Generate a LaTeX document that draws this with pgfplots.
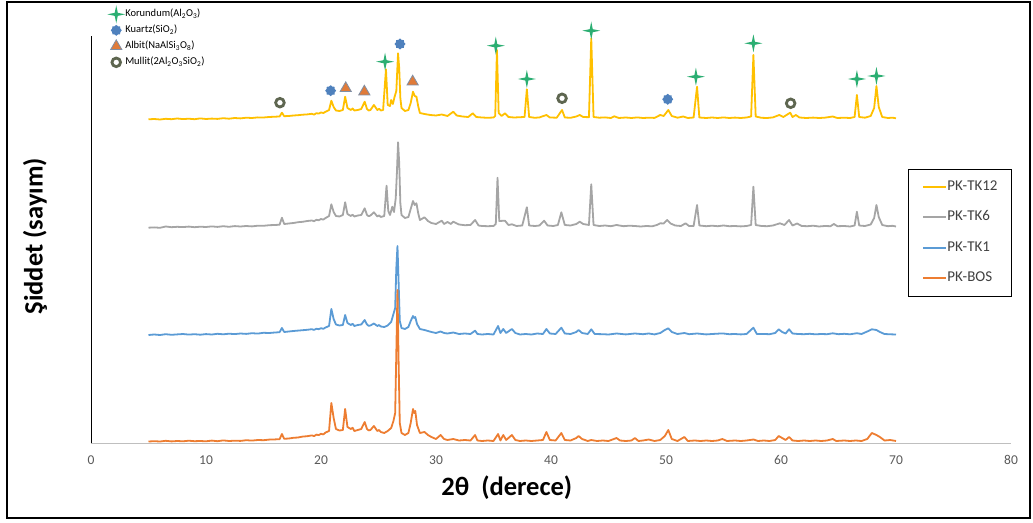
\documentclass[border=0pt]{standalone}
\usepackage{fontspec}
\setmainfont{Carlito}
\usepackage{pgfplots}
\usepackage{pgfplotstable}
\pgfplotsset{compat=1.18}
\usetikzlibrary{plotmarks}

\definecolor{ylw}{HTML}{FFC000}
\definecolor{gry}{HTML}{A5A5A5}
\definecolor{blu}{HTML}{5B9BD5}
\definecolor{org}{HTML}{ED7D31}
\definecolor{korgreen}{HTML}{2BAE72}
\definecolor{kuablue}{HTML}{4F81BD}
\definecolor{albitorange}{HTML}{E07B39}
\definecolor{albitedge}{HTML}{7F8FA6}
\definecolor{mullitc}{HTML}{5E6650}
\definecolor{tickgray}{HTML}{595959}
\definecolor{axisgray}{HTML}{BFBFBF}
\definecolor{txt}{HTML}{404040}

\pgfdeclareplotmark{star4}{%
 \pgfpathmoveto{\pgfqpoint{0pt}{\pgfplotmarksize}}%
 \pgfpathlineto{\pgfqpoint{0.17\pgfplotmarksize}{0.17\pgfplotmarksize}}%
 \pgfpathlineto{\pgfqpoint{\pgfplotmarksize}{0pt}}%
 \pgfpathlineto{\pgfqpoint{0.17\pgfplotmarksize}{-0.17\pgfplotmarksize}}%
 \pgfpathlineto{\pgfqpoint{0pt}{-\pgfplotmarksize}}%
 \pgfpathlineto{\pgfqpoint{-0.17\pgfplotmarksize}{-0.17\pgfplotmarksize}}%
 \pgfpathlineto{\pgfqpoint{-\pgfplotmarksize}{0pt}}%
 \pgfpathlineto{\pgfqpoint{-0.17\pgfplotmarksize}{0.17\pgfplotmarksize}}%
 \pgfpathclose\pgfusepathqfill}
\pgfdeclareplotmark{gear}{%
 \pgfpathmoveto{\pgfpointpolar{0}{\pgfplotmarksize}}%
 \pgfpathlineto{\pgfpointpolar{22.5}{0.8\pgfplotmarksize}}%
 \pgfpathlineto{\pgfpointpolar{45}{\pgfplotmarksize}}%
 \pgfpathlineto{\pgfpointpolar{67.5}{0.8\pgfplotmarksize}}%
 \pgfpathlineto{\pgfpointpolar{90}{\pgfplotmarksize}}%
 \pgfpathlineto{\pgfpointpolar{112.5}{0.8\pgfplotmarksize}}%
 \pgfpathlineto{\pgfpointpolar{135}{\pgfplotmarksize}}%
 \pgfpathlineto{\pgfpointpolar{157.5}{0.8\pgfplotmarksize}}%
 \pgfpathlineto{\pgfpointpolar{180}{\pgfplotmarksize}}%
 \pgfpathlineto{\pgfpointpolar{202.5}{0.8\pgfplotmarksize}}%
 \pgfpathlineto{\pgfpointpolar{225}{\pgfplotmarksize}}%
 \pgfpathlineto{\pgfpointpolar{247.5}{0.8\pgfplotmarksize}}%
 \pgfpathlineto{\pgfpointpolar{270}{\pgfplotmarksize}}%
 \pgfpathlineto{\pgfpointpolar{292.5}{0.8\pgfplotmarksize}}%
 \pgfpathlineto{\pgfpointpolar{315}{\pgfplotmarksize}}%
 \pgfpathlineto{\pgfpointpolar{337.5}{0.8\pgfplotmarksize}}%
 \pgfpathclose\pgfusepathqfill}

% PK-TK12
\pgfplotstableread{
x y
5.0 323.7
5.5 324
6.0 323.5
6.5 324.2
7.0 323.8
7.5 324.5
8.0 323.9
8.5 324.3
9.0 323.8
9.5 324.6
10.0 324
10.5 324.4
11.0 324.1
11.5 324.8
12.0 324.3
12.5 325
13.0 324.6
13.5 325.3
14.0 325
14.5 325.6
15.0 325.5
15.5 326
16.0 326.3
16.4 326.5
16.6 330.3
16.8 326.8
17.2 327
17.6 327.5
18.0 327.8
18.4 328.3
18.8 328.6
19.2 329.2
19.4 328.4
19.6 329.8
19.8 329.4
20.0 330.5
20.2 330
20.4 331.2
20.7 333
20.9 342.3
21.1 336
21.3 332.5
21.6 332
21.9 333
22.1 346.3
22.3 335
22.6 333
22.75 334.5
22.9 332.5
23.2 333
23.5 334
23.8 341.3
24.0 334
24.15 332.5
24.3 333
24.6 338
24.9 333
25.05 334.2
25.2 332.5
25.4 333
25.65 373.7
25.8 338
26.0 337
26.1 343
26.25 339
26.4 346.3
26.55 352
26.7 389.7
26.8 375
26.9 345
27.0 335
27.3 332
27.6 333
27.8 340
28.0 351.3
28.15 347
28.3 346.3
28.45 337
28.6 330
29.0 329
29.5 328
30.0 327.5
30.5 328.5
31.0 327
31.5 331.3
31.8 327.5
32.3 326.5
32.8 326
33.2 329.7
33.5 326
34.0 325.5
34.5 325.2
35.0 325.5
35.15 327
35.3 393
35.45 330
35.7 327
36.0 329.7
36.3 326
36.8 325.5
37.3 325.8
37.7 326
37.9 353.7
38.1 326
38.6 325.2
39.0 325.6
39.6 328
39.9 325.5
40.5 325.3
40.96 333
41.2 325.5
41.7 325.2
42.2 326.5
42.5 328
42.8 326
43.3 325.8
43.5 404.7
43.7 326
44.2 325.3
44.7 325.6
45.2 325
45.5 326.7
45.9 325
46.5 325.5
47.0 325
47.5 325.6
48.0 325
48.5 325.3
49.0 325.1
49.5 328
49.8 327
50.2 333
50.5 327
51.0 325.3
51.5 326.5
51.9 325
52.4 325.5
52.7 356.3
52.9 325.5
53.5 325
54.0 325.5
54.5 325
55.0 325.6
55.5 325
56.0 325.4
56.5 325
57.0 325.5
57.4 326.5
57.6 388
57.8 326.5
58.3 325.2
58.8 325
59.3 325.6
59.85 328
60.2 326
60.8 330.3
61.0 326
61.3 328
61.6 325.5
62.2 325
62.8 325.4
63.3 325
63.8 325.3
64.5 326.5
64.9 325
65.5 325.3
66.0 325
66.4 326
66.6 348
66.8 326
67.3 325.3
67.8 327
68.1 335
68.3 357
68.5 336
68.8 326
69.3 325
69.7 325.3
70.0 324.7
}\tktwelve

% PK-TK6
\pgfplotstableread{
x y
5.0 215.3
5.5 215.6
6.0 215.2
6.5 216.5
7.0 215.8
7.5 216.2
8.0 215.9
8.5 216.4
9.0 215.8
9.5 216.3
10.0 216.0
10.5 216.6
11.0 216.1
11.5 216.8
12.0 216.2
12.5 216.9
13.0 216.5
13.5 217
14.0 216.6
14.5 217.3
15.0 217.2
15.5 217.8
16.0 218
16.4 218.3
16.6 225.3
16.8 219
17.2 219.5
17.6 220
18.0 220.8
18.4 221.2
18.8 222
19.2 222.5
19.4 221.8
19.6 223.2
19.8 222.7
20.0 224
20.2 223.4
20.4 225
20.7 227
20.9 238.7
21.1 231
21.3 227
21.6 226.5
21.9 228
22.1 240.7
22.3 229
22.6 227
22.75 228.3
22.9 226.5
23.2 227.5
23.5 228
23.8 234.7
24.0 228
24.15 226.8
24.3 227.5
24.6 230.7
24.9 226.5
25.05 227.6
25.2 226
25.5 227
25.7 257.3
25.85 232
26.0 228
26.2 236.3
26.35 231
26.5 245
26.6 270
26.7 300.7
26.8 280
26.9 240
27.0 228
27.3 225
27.6 226
27.8 234
28.0 242
28.15 238
28.3 239.7
28.45 230
28.6 223
29.0 225.7
29.3 222
29.6 220
30.0 219
30.5 222.3
30.7 219
31.0 221
31.3 219
31.5 221.3
32.0 218.5
32.5 217.8
33.0 218
33.4 223
33.7 217.5
34.0 217
34.5 216.8
35.0 217
35.2 219
35.35 265.3
35.5 222
36.0 222.3
36.3 218
36.6 218.7
37.0 217
37.5 217.5
37.9 235.7
38.1 217.5
38.6 217
39.0 217.5
39.4 222.3
39.7 217.5
40.2 217
40.6 218
40.9 230.7
41.2 218
41.7 217.5
42.2 219
42.5 221.3
42.8 219
43.3 218
43.5 258.7
43.7 218
44.2 217
44.7 217.5
45.2 216.8
45.7 218
46.3 216.8
46.8 217.3
47.3 217
47.8 216.5
48.3 217
48.8 216.7
49.2 218
49.5 219.7
49.8 219.5
50.1 223
50.4 219.5
50.8 217.5
51.3 217
51.7 219.7
52.0 217
52.4 217
52.7 238
52.9 217.5
53.5 216.8
54.0 217.3
54.5 216.8
55.0 217.5
55.5 216.8
56.0 217
56.5 216.6
57.0 217
57.4 218
57.6 256.3
57.8 218
58.3 217
58.8 216.8
59.3 217.5
59.9 219.7
60.3 218
60.7 223
61.0 217.5
61.4 219.5
61.8 217
62.3 216.8
62.8 217.3
63.3 216.5
63.8 217
64.3 216.8
64.6 219
64.9 216.8
65.5 217
66.0 216.5
66.4 217.5
66.6 231.3
66.8 217.5
67.3 217
67.8 218.5
68.1 225
68.3 238
68.5 226
68.8 218
69.3 216.8
69.7 217.2
70.0 216.5
}\tksix

% PK-TK1
\pgfplotstableread{
x y
5.0 108
5.5 108.5
6.0 108
6.5 108.8
7.0 108.2
7.5 108.6
8.0 109
8.5 108.4
9.0 108.8
9.5 108.3
10.0 108.9
10.5 108.5
11.0 109.2
11.5 108.7
12.0 109.3
12.5 108.9
13.0 109.5
13.5 109.1
14.0 109.8
14.5 109.4
15.0 110.2
15.5 110
16.0 110.5
16.4 110.8
16.6 115
16.8 111
17.2 111.5
17.6 112
18.0 112.4
18.4 112.8
18.8 113.2
19.2 113.8
19.4 113.1
19.6 114.3
19.8 113.8
20.0 114.8
20.2 114.2
20.4 115.5
20.7 117
20.9 134
21.1 124
21.3 118.5
21.6 117.5
21.9 118
22.1 128
22.3 120
22.6 118
22.75 119.2
22.9 117
23.2 118
23.5 118.5
23.8 123
24.0 118.5
24.15 117.2
24.3 117.5
24.6 119.5
24.9 117
25.05 118
25.2 116.5
25.5 116
25.8 117.5
26.1 121
26.3 129
26.45 135
26.55 175
26.65 197
26.75 160
26.85 122
27.0 115
27.3 114
27.6 116
27.8 122
28.0 127
28.1 125
28.2 126
28.35 119
28.6 114
29.0 113
29.3 112
29.6 111
30.0 110
30.4 111.5
30.7 110
31.0 109.5
31.5 110.5
32.0 109
32.5 109.5
33.0 109
33.4 112.3
33.6 109
34.0 108.5
34.5 109
35.0 108.5
35.4 117
35.6 110
35.85 114
36.1 110
36.6 114
36.9 110
37.3 108.5
37.8 109
38.3 108.5
38.8 109.5
39.3 109
39.6 114
39.9 109.5
40.4 109
40.9 115.3
41.2 109.5
41.7 109
42.2 111
42.4 113
42.7 110
43.2 109
43.5 113.7
43.8 109
44.5 108.8
45.0 108.5
45.7 109.5
46.5 108.6
47.3 109.5
48.0 108.8
48.5 109.5
49.0 108.6
49.5 110
49.9 113
50.2 114.7
50.5 111
51.0 109
51.6 110
52.0 108.8
52.7 109.5
53.5 108.6
54.0 109
54.9 109.6
55.5 108.8
56.0 109
56.5 108.6
57.0 109
57.6 115.3
57.9 109
58.5 109
59.0 108.8
59.5 110
59.8 113.7
60.1 111
60.4 109.5
60.7 113.7
61.0 109.5
61.5 109
62.0 108.8
62.5 109.2
63.0 108.7
63.5 109
64.0 108.8
64.5 109.7
65.0 108.8
65.5 109.2
66.0 108.7
66.6 109.8
67.0 109
67.5 111.5
67.9 113.7
68.3 113
68.6 111
69.0 109
69.5 108.7
70.0 108.5
}\tkone

% PK-BOS
\pgfplotstableread{
x y
5.0 1.5
5.5 1.8
6.0 1.5
6.5 2.2
7.0 1.6
7.5 2.0
8.0 1.7
8.5 2.3
9.0 1.8
9.5 2.0
10.0 1.7
10.5 2.4
11.0 1.8
11.5 2.6
12.0 2.0
12.5 2.3
13.0 2.1
13.5 2.8
14.0 2.4
14.5 3.0
15.0 2.8
15.5 3.4
16.0 3.6
16.4 3.8
16.6 9
16.8 4.2
17.2 4.5
17.6 5.2
18.0 5.5
18.4 6.4
18.8 6.8
19.2 7.6
19.4 6.9
19.6 8.4
19.8 7.9
20.0 9.2
20.2 8.6
20.4 10.5
20.7 12
20.9 40
21.1 25
21.3 14
21.6 12.5
21.9 13
22.1 34
22.3 16
22.6 14
22.75 15.2
22.9 12
23.2 13
23.5 14
23.8 21
24.0 14
24.15 12.6
24.3 13
24.6 17
24.9 12
25.05 13
25.2 11
25.5 10
25.8 12
26.1 15
26.3 22
26.45 30
26.55 90
26.65 153
26.75 80
26.85 20
27.0 10
27.3 8
27.6 10
27.8 20
28.0 34
28.1 30
28.2 32
28.35 18
28.6 10
29.0 11
29.3 8
29.6 6
30.0 4
30.4 8
30.7 4
31.0 3
31.5 4
32.0 2.5
32.5 3
33.0 2.5
33.4 8
33.6 2.5
34.0 2
34.5 2.5
35.0 2
35.4 9
35.6 2.5
35.85 8
36.1 3
36.6 8
36.9 3
37.3 2
37.8 2.5
38.3 2
38.8 2.5
39.3 3
39.6 11
39.9 3
40.4 2.5
40.9 10
41.2 3
41.7 2.5
42.2 5
42.4 7
42.7 4
43.2 2
43.5 3
44.0 2
44.5 2.5
45.0 2
45.7 5
46.0 2.5
46.5 2
47.0 2.5
47.3 5
47.6 2
48.0 2.5
48.5 3.5
49.0 2
49.5 3
49.9 7
50.2 13
50.5 4
51.0 2
51.6 6
51.9 2
52.5 2.5
53.0 2
53.5 2.5
54.0 2
54.5 2.5
54.9 4
55.3 2
56.0 2.5
56.5 2
57.0 2.5
57.6 3.5
58.0 2
58.5 2.5
59.0 2
59.5 3
59.8 7
60.1 5
60.4 3
60.7 6
61.0 2.5
61.5 2
62.0 2.5
62.5 2
63.0 2.5
63.5 2
64.0 2.5
64.5 4
64.8 2
65.5 2.5
66.0 2
66.5 2.5
67.0 2
67.5 4
67.9 10
68.3 8
68.6 6
69.0 2.5
69.5 3
70.0 2
}\bos

\begin{document}
\begin{tikzpicture}[x=1pt,y=1pt]
\begin{axis}[
  at={(0,0)}, anchor=south west,
  width=920pt, height=407pt, scale only axis,
  xmin=0, xmax=80, ymin=0, ymax=407,
  axis lines*=left,
  x axis line style={draw=axisgray, line width=1pt},
  y axis line style={draw=black, line width=0.8pt},
  xtick={0,10,...,80}, ytick=\empty,
  major tick length=0pt,
  /pgf/number format/assume math mode=true,
  xticklabel style={font=\fontsize{13.5}{15}\selectfont, text=tickgray, yshift=-9pt},
  xlabel={2θ\ \ (derece)},
  xlabel style={font=\bfseries\fontsize{26.5}{30}\selectfont, at={(axis description cs:0.452,-0.1106)}, anchor=center},
  ylabel={Şiddet (sayım)},
  ylabel style={font=\bfseries\fontsize{26.5}{30}\selectfont, at={(axis description cs:-0.0609,0.508)}, anchor=center},
  clip=false,
  legend cell align=left,
  legend style={at={(axis description cs:0.888,0.673)}, anchor=north west,
    draw=black, line width=0.8pt, fill=white,
    font=\fontsize{15}{17}\selectfont, text=txt,
    inner xsep=14pt, inner ysep=11pt, row sep=17.5pt,
    nodes={inner sep=0pt, text height=10pt, text depth=3pt}},
  legend image code/.code={\draw[#1, line width=2pt] (0pt,0pt) -- (23pt,0pt);},
  every axis plot/.append style={line width=1.8pt, line join=round},
]
\addplot[ylw] table {\tktwelve};
\addlegendentry{PK-TK12}
\addplot[gry] table {\tksix};
\addlegendentry{PK-TK6}
\addplot[blu] table {\tkone};
\addlegendentry{PK-TK1}
\addplot[org] table {\bos};
\addlegendentry{PK-BOS}
\end{axis}

\begin{axis}[
  at={(0,0)}, anchor=south west,
  width=920pt, height=407pt, scale only axis,
  xmin=0, xmax=80, ymin=0, ymax=407,
  hide axis, clip=false,
  legend cell align=left,
  legend style={at={(axis description cs:0.0207,1.066)}, anchor=north west,
    draw=none, fill=none, inner sep=0pt,
    font=\fontsize{10.5}{12}\selectfont, text=black,
    row sep=6pt, column sep=3pt,
    nodes={inner sep=0pt, text height=7.5pt, text depth=2.5pt}},
  legend image code/.code={\path[draw=none,fill=none] (-6pt,-3pt) rectangle (6pt,3pt); \draw[#1,overlay] plot coordinates {(0pt,0pt)};},
]
\addplot[only marks, mark=star4, mark size=9pt, color=korgreen] coordinates {
(25.57,381.3) (35.2,397.3) (37.9,364) (43.5,412.3) (52.6,366.3) (57.6,399.7) (66.6,364) (68.3,367)};
\addlegendentry{Korundum(Al\textsubscript{2}O\textsubscript{3})}
\addplot[only marks, mark=gear, mark size=5.5pt, color=kuablue] coordinates {
(20.84,352.3) (26.87,399) (50.15,343.7)};
\addlegendentry{Kuartz(SiO\textsubscript{2})}
\addplot[only marks, mark=triangle*, mark size=6.5pt, mark options={fill=albitorange, draw=albitedge, line width=0.8pt}] coordinates {
(22.15,354.7) (23.77,351.3) (27.97,361.3)};
\addlegendentry{Albit(NaAlSi\textsubscript{3}O\textsubscript{8})}
\addplot[only marks, mark=o, mark size=4.3pt, mark options={draw=mullitc, line width=2.8pt}] coordinates {
(16.43,340.3) (40.96,344.7) (60.84,339.7)};
\addlegendentry{Mullit(2Al\textsubscript{2}O\textsubscript{3}SiO\textsubscript{2})}
\end{axis}

\draw[line width=1.3pt] (-84,-75) rectangle (939,441);
\pgfresetboundingbox
\path[use as bounding box] (-91,-79) rectangle (942,443);
\end{tikzpicture}
\end{document}
